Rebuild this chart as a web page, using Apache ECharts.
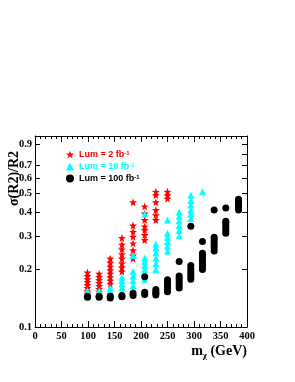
<!DOCTYPE html>
<html>
<head>
<meta charset="utf-8">
<script src="https://cdn.jsdelivr.net/npm/echarts@6/dist/echarts.min.js"></script>
<style>html,body{margin:0;padding:0;background:#fff;}#c{width:295px;height:382px;}</style>
</head>
<body>
<div id="c"></div>
<script>
// Neutralino mass columns (GeV)
const masses = [99, 121, 142, 164, 185, 207, 228, 250, 272, 294, 316, 338, 360, 384];
// sigma(R2)/R2 values per mass column
const lum2 = [
  [0.193, 0.185, 0.178, 0.172, 0.166, 0.160, 0.155, 0.151],
  [0.190, 0.183, 0.176, 0.170, 0.164, 0.158, 0.153],
  [0.228, 0.217, 0.207, 0.198, 0.190, 0.182, 0.175, 0.168],
  [0.292, 0.270, 0.255, 0.240, 0.228, 0.215, 0.205, 0.195],
  [0.450, 0.340, 0.315, 0.297, 0.274, 0.252, 0.237, 0.228],
  [0.428, 0.393, 0.363, 0.336, 0.322, 0.303, 0.285],
  [0.510, 0.490, 0.450, 0.410, 0.385, 0.363],
  [0.510, 0.490, 0.470]
];
const lum10 = [
  [0.145, 0.148, 0.151, 0.155],
  [0.145, 0.148, 0.151, 0.155],
  [0.147, 0.151, 0.155, 0.160],
  [0.152, 0.160, 0.168, 0.175, 0.182],
  [0.155, 0.165, 0.175, 0.185, 0.195, 0.237],
  [0.178, 0.190, 0.200, 0.210, 0.220, 0.230, 0.390],
  [0.200, 0.215, 0.230, 0.245, 0.260, 0.272],
  [0.250, 0.265, 0.280, 0.295, 0.310, 0.363],
  [0.300, 0.320, 0.340, 0.360, 0.380, 0.400],
  [0.370, 0.390, 0.410, 0.435, 0.460, 0.490],
  [0.510]
];
const lum100 = [
  [0.143, 0.145],
  [0.143, 0.145],
  [0.142, 0.145],
  [0.144, 0.146],
  [0.146, 0.150],
  [0.148, 0.152, 0.183],
  [0.147, 0.150, 0.153, 0.157],
  [0.153, 0.158, 0.163, 0.168, 0.173, 0.177],
  [0.160, 0.165, 0.170, 0.175, 0.180, 0.185, 0.220],
  [0.178, 0.184, 0.190, 0.196, 0.202, 0.210, 0.337],
  [0.200, 0.207, 0.214, 0.221, 0.228, 0.236, 0.243, 0.280],
  [0.250, 0.259, 0.268, 0.277, 0.286, 0.295, 0.410],
  [0.310, 0.320, 0.330, 0.340, 0.350, 0.358, 0.420],
  [0.410, 0.422, 0.434, 0.446, 0.458, 0.467]
];
const yTicks = [0.1, 0.2, 0.3, 0.4, 0.5, 0.6, 0.7, 0.8, 0.9, 1];
const yLabels = [0.1, 0.2, 0.3, 0.4, 0.5, 0.6, 0.7, 0.8, 0.9];
const seriesNames = ['Lum = 2 fb', 'Lum = 10 fb', 'Lum = 100 fb'];

function toPoints(cols) {
  const out = [];
  cols.forEach((vals, i) => vals.forEach(v => out.push([masses[i], v])));
  return out;
}
const STAR = 'path://M0,-10 L2.35,-3.24 L9.51,-3.09 L3.8,1.24 L5.88,8.09 L0,4 L-5.88,8.09 L-3.8,1.24 L-9.51,-3.09 L-2.35,-3.24 Z';
const serif = '"Liberation Serif", "DejaVu Serif", serif';
const sans = '"Liberation Sans", Arial, sans-serif';
const axisLabelStyle = { fontFamily: serif, fontWeight: 'bold', fontSize: 10.5, color: '#000' };

const chart = echarts.init(document.getElementById('c'), null, { renderer: 'canvas' });
const xCommon = {
  type: 'value', min: 0, max: 400, interval: 50,
  axisLine: { show: true, onZero: false, lineStyle: { color: '#000', width: 1 } },
  axisTick: { show: true, inside: true, length: 6, lineStyle: { color: '#000' } },
  minorTick: { show: true, splitNumber: 5, length: 3, lineStyle: { color: '#000' } },
  splitLine: { show: false }
};
const yCommon = {
  type: 'log', logBase: 10, min: 0.1, max: 1,
  axisLine: { show: true, onZero: false, lineStyle: { color: '#000', width: 1 } },
  axisTick: { show: true, inside: true, length: 5, customValues: yTicks, lineStyle: { color: '#000' } },
  splitLine: { show: false }
};
chart.setOption({
  animation: false,
  backgroundColor: '#fff',
  grid: { left: 35, top: 136, width: 212, height: 191, containLabel: false },
  graphic: [{
    type: 'text', x: 7, y: 206, rotation: Math.PI / 2,
    style: {
      text: 'σ(R2)/R2', fill: '#000', textAlign: 'left', textVerticalAlign: 'top',
      font: 'bold 14px ' + serif
    }
  }],
  xAxis: [
    Object.assign({}, xCommon, {
      position: 'bottom',
      axisLabel: Object.assign({ margin: 4 }, axisLabelStyle),
      name: 'm{sub|χ} (GeV)', nameLocation: 'end', nameGap: 0,
      nameTextStyle: {
        fontFamily: serif, fontWeight: 'bold', fontSize: 14, color: '#000',
        align: 'right', verticalAlign: 'top', padding: [16, 0, 0, 0],
        rich: { sub: { fontFamily: serif, fontWeight: 'bold', fontSize: 9, color: '#000', padding: [8, 0, 0, 0] } }
      }
    }),
    Object.assign({}, xCommon, { position: 'top', axisLabel: { show: false } })
  ],
  yAxis: [
    Object.assign({}, yCommon, {
      position: 'left',
      axisLabel: Object.assign({ margin: 3, customValues: yLabels, showMinLabel: true, showMaxLabel: true, hideOverlap: false, formatter: v => String(v) }, axisLabelStyle)
    }),
    Object.assign({}, yCommon, { position: 'right', axisLabel: { show: false } })
  ],
  legend: {
    orient: 'vertical', left: 61, top: 145, itemWidth: 8, itemHeight: 8, itemGap: 3,
    textStyle: {
      fontFamily: sans, fontWeight: 'bold', fontSize: 9,
      rich: { sup: { fontFamily: sans, fontWeight: 'bold', fontSize: 6, verticalAlign: 'top', lineHeight: 6 } }
    },
    formatter: name => name + '{sup|-1}',
    data: [
      { name: seriesNames[0], textStyle: { color: '#ff0000' } },
      { name: seriesNames[1], textStyle: { color: '#00ffff' } },
      { name: seriesNames[2], textStyle: { color: '#000000' } }
    ]
  },
  series: [
    { name: seriesNames[0], type: 'scatter', symbol: STAR, symbolSize: 8, itemStyle: { color: '#ff0000', opacity: 1 }, data: toPoints(lum2), xAxisIndex: 0, yAxisIndex: 0 },
    { name: seriesNames[1], type: 'scatter', symbol: 'triangle', symbolSize: 7, itemStyle: { color: '#00ffff', opacity: 1 }, data: toPoints(lum10), xAxisIndex: 0, yAxisIndex: 0 },
    { name: seriesNames[2], type: 'scatter', symbol: 'circle', symbolSize: 7, itemStyle: { color: '#000000', opacity: 1 }, data: toPoints(lum100), xAxisIndex: 0, yAxisIndex: 0 }
  ]
});
</script>
</body>
</html>
